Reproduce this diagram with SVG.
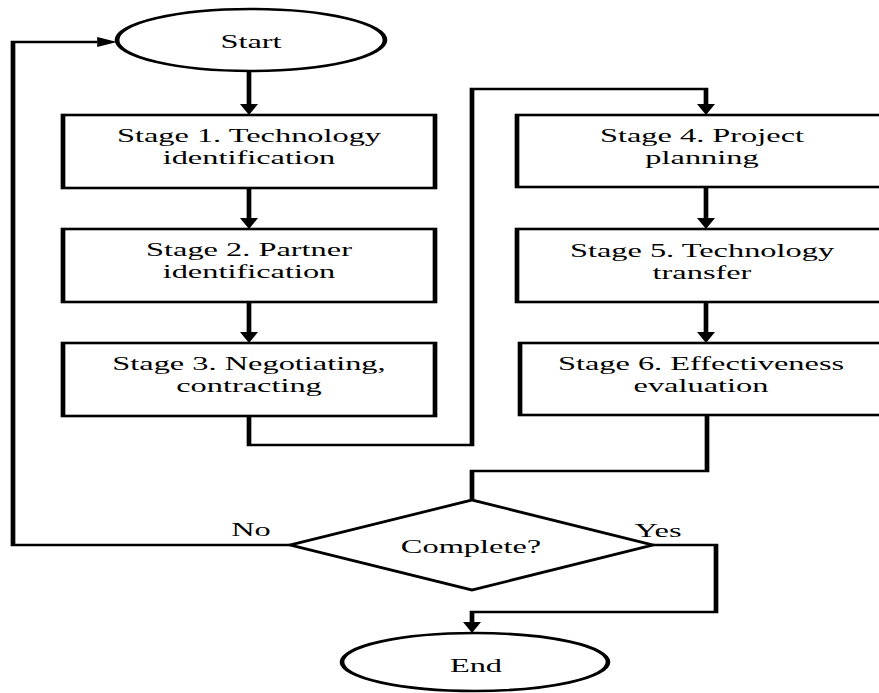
<svg xmlns="http://www.w3.org/2000/svg" width="879" height="693" viewBox="0 0 879 693">
  <defs>
    <style>
      .shape { fill: #ffffff; stroke: #000000; stroke-width: 2.6; }
      .wire { fill: none; stroke: #000000; stroke-width: 2.6; stroke-linejoin: miter; }
      .label { font-family: "Liberation Serif", "Times New Roman", serif; font-size: 18px; fill: #000000; text-anchor: middle; }
    </style>
    <marker id="arrow" markerUnits="userSpaceOnUse" markerWidth="11" markerHeight="10" refX="0" refY="5" orient="auto" overflow="visible">
      <path d="M0,0 L11,5 L0,10 Z" fill="#000000"/>
    </marker>
  </defs>
  <rect width="879" height="693" fill="#ffffff"/>
  <!-- the whole chart is drawn in a horizontally stretched frame (x scaled by 1.8) -->
  <g transform="scale(1.8,1)">
    <g id="connectors">
      <path class="wire" d="M138.33,71 V104" marker-end="url(#arrow)"/>
      <path class="wire" d="M138.33,188 V218" marker-end="url(#arrow)"/>
      <path class="wire" d="M138.33,302 V332" marker-end="url(#arrow)"/>
      <path class="wire" d="M138.33,416 V445 H262.22 V89 H392.22 V104" marker-end="url(#arrow)"/>
      <path class="wire" d="M392.22,187 V218" marker-end="url(#arrow)"/>
      <path class="wire" d="M392.22,302 V332" marker-end="url(#arrow)"/>
      <path class="wire" d="M392.78,415 V471 H262.22 V500"/>
      <path class="wire" d="M161.11,545 H7.22 V42 H54" marker-end="url(#arrow)"/>
      <path class="wire" d="M362.78,545 H397.78 V612 H262.22 V622" marker-end="url(#arrow)"/>
      <text class="label" x="139.44" y="536">No</text>
      <text class="label" x="365.56" y="537">Yes</text>
    </g>
    <g id="start">
      <ellipse class="shape" cx="139.44" cy="40" rx="74.44" ry="31"/>
      <text class="label" x="139.44" y="48">Start</text>
    </g>
    <g id="stage1">
      <rect class="shape" x="35" y="115" width="206.67" height="73"/>
      <text class="label" x="138.33" y="142">Stage 1. Technology</text>
      <text class="label" x="138.33" y="164">identification</text>
    </g>
    <g id="stage2">
      <rect class="shape" x="35" y="229" width="206.67" height="73"/>
      <text class="label" x="138.33" y="256">Stage 2. Partner</text>
      <text class="label" x="138.33" y="278">identification</text>
    </g>
    <g id="stage3">
      <rect class="shape" x="35" y="343" width="206.67" height="73"/>
      <text class="label" x="138.33" y="370">Stage 3. Negotiating,</text>
      <text class="label" x="138.33" y="392">contracting</text>
    </g>
    <g id="stage4">
      <rect class="shape" x="287.22" y="115" width="220" height="72"/>
      <text class="label" x="390" y="142">Stage 4. Project</text>
      <text class="label" x="390" y="164">planning</text>
    </g>
    <g id="stage5">
      <rect class="shape" x="287.22" y="229" width="220" height="73"/>
      <text class="label" x="390" y="257">Stage 5. Technology</text>
      <text class="label" x="390" y="279">transfer</text>
    </g>
    <g id="stage6">
      <rect class="shape" x="288.9" y="343" width="220" height="72"/>
      <text class="label" x="389.44" y="370">Stage 6. Effectiveness</text>
      <text class="label" x="389.44" y="392">evaluation</text>
    </g>
    <g id="decision">
      <polygon class="shape" points="262.22,500 362.78,545 262.22,590 161.11,545"/>
      <text class="label" x="261.67" y="553">Complete?</text>
    </g>
    <g id="end">
      <ellipse class="shape" cx="263.89" cy="662" rx="73.89" ry="29"/>
      <text class="label" x="264.44" y="672">End</text>
    </g>
  </g>
</svg>
